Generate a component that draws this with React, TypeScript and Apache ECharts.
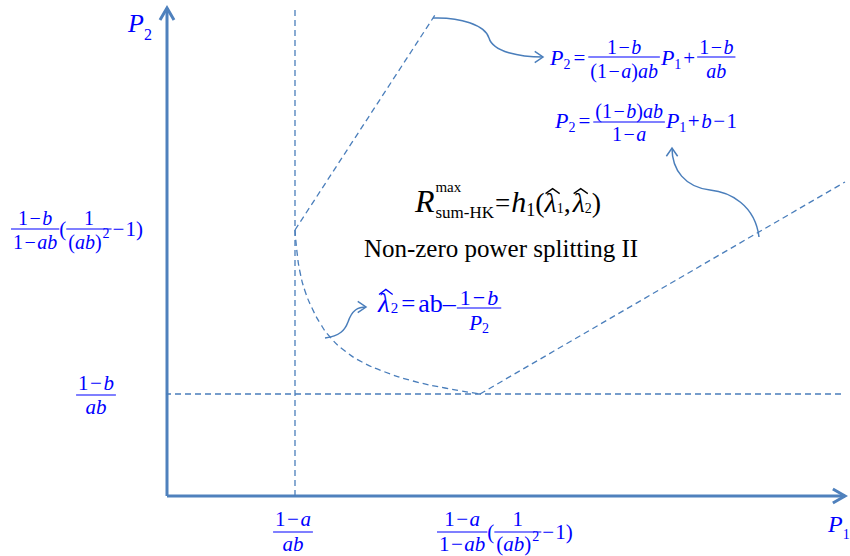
import React, { useEffect, useRef } from "react";
import * as echarts from "echarts";

// Data units: pixel-sized steps measured from the origin (P1 to the right, P2 upwards)
const X_MAX = 678;
const Y_MAX = 488;
const verticalGuide = [[128, 0], [128, 486]];
const horizontalGuide = [[-2, 102], [678, 102]];
const upperBoundary = [[128, 266], [268, 481]];
const lambdaCurve = [
  [128, 266], [130, 244], [133, 224], [138, 205], [145, 188], [153, 173], [163, 159],
  [178, 145], [195, 134], [218, 124], [246, 115], [278, 108], [313, 102],
];
const rightBoundary = [[313, 102], [678, 314]];
const axisArrows = [[0, 0, 0, Y_MAX], [0, 0, X_MAX, 0]];
// each connector: two cubic bezier segments (start, cp, cp, mid, cp, cp, end)
const connectors = [
  [266, 478, 293, 479, 318, 471, 322, 458, 326, 444, 353, 439, 376, 439],
  [592, 259, 588, 291, 563, 304, 543, 306, 518, 309, 505, 326, 505, 348],
  [158, 158, 173, 160, 178, 166, 181, 174, 185, 186, 191, 189, 199, 189],
];

const LINE = "#4a7ebb";
const AXIS = "#4f81bd";
const BLUE = "#0000ff";
const BLACK = "#000000";
const FAM = "Liberation Serif";
const CB = 0.34; // central-to-alphabetic baseline offset (em)

type Piece = any;

let ctx: CanvasRenderingContext2D | null = null;
function meas(p: Piece): number {
  if (!ctx) ctx = document.createElement("canvas").getContext("2d");
  ctx!.font = `${p.i ? "italic " : ""}${p.s}px "${FAM}"`;
  return ctx!.measureText(p.t).width;
}
function pw(p: Piece): number {
  const m = (p.l || 0) + (p.r || 0);
  if (p.num) return Math.max(rw(p.num), rw(p.den)) + 2 * (p.pad ?? 2) + m;
  return meas(p) + m;
}
function rw(ps: Piece[]): number {
  return ps.reduce((a, p) => a + pw(p), 0);
}
function textEl(p: Piece, x: number, y: number, color: string) {
  return {
    type: "text",
    x,
    y,
    silent: true,
    style: {
      text: p.t,
      fontFamily: FAM,
      fontSize: p.s,
      fontStyle: p.i ? "italic" : "normal",
      fill: color,
      align: "left",
      verticalAlign: "middle",
    },
  };
}
// a fraction drawn as one two-line rich text, centred on cx, plus its bar
function fracText(p: Piece, cx: number, by: number, color: string) {
  const rich: any = {};
  let k = 0;
  const nb = p.nb ?? -4;
  const db = p.db ?? 20;
  const lh = db - nb;
  const maxS = (ps: Piece[]) => ps.reduce((a, q) => Math.max(a, q.s), 0);
  const Sn = maxS(p.num);
  const Sd = maxS(p.den);
  const line = (ps: Piece[], S: number) =>
    ps
      .map((q) => {
        const key = "k" + k++;
        const d = CB * (S - q.s) + (q.dy || 0);
        rich[key] = {
          fontFamily: FAM,
          fontSize: q.s,
          fontStyle: q.i ? "italic" : "normal",
          fill: color,
          align: "center",
          lineHeight: lh,
          padding: [d > 0 ? 2 * d : 0, q.r || 0, d < 0 ? -2 * d : 0, q.l || 0],
        };
        return `{${key}|${q.t}}`;
      })
      .join("");
  const numCentral = by + nb - CB * Sn;
  return {
    type: "text",
    x: cx,
    y: numCentral - lh / 2,
    silent: true,
    style: {
      text: line(p.num, Sn) + "\n" + line(p.den, Sd),
      rich,
      fill: color,
      fontFamily: FAM,
      fontSize: Sn,
      align: "center",
      verticalAlign: "top",
    },
  };
}
function place(ps: Piece[], x: number, base: number, color: string, out: any[]): number {
  for (const p of ps) {
    x += p.l || 0;
    if (p.num) {
      const nw = rw(p.num);
      const dw = rw(p.den);
      const w = Math.max(nw, dw) + 2 * (p.pad ?? 2);
      const by = base + (p.bar ?? -7);
      out.push({
        type: "line",
        silent: true,
        shape: { x1: x, y1: by, x2: x + w, y2: by },
        style: { stroke: color, lineWidth: 1.2 },
      });
      out.push(fracText(p, x + w / 2, by, color));
      x += w;
    } else {
      const w = meas(p);
      const y = base + (p.dy || 0);
      out.push(textEl(p, x, y - CB * p.s, color));
      if (p.hat) {
        const top = y - 0.8 * p.s;
        out.push({
          type: "polyline",
          silent: true,
          shape: { points: [[x + 1, top + 4], [x + w / 2 + 2, top - 1], [x + w + 3, top + 4]] },
          style: { stroke: color, lineWidth: 1.3, fill: "none" },
        });
      }
      x += w;
    }
    x += p.r || 0;
  }
  return x;
}
function run(ps: Piece[], x: number, base: number, color: string, out: any[], anchor = "left") {
  const w = rw(ps);
  const sx = anchor === "center" ? x - w / 2 : x;
  place(ps, sx, base, color, out);
}

const T = (t: string, s = 21, extra: any = {}) => ({ t, s, ...extra });
const I = (t: string, s = 21, extra: any = {}) => ({ t, s, i: true, ...extra });
const M = (s = 21, sp = 1.5) => ({ t: "−", s, l: sp, r: sp });
const F = (num: Piece[], den: Piece[], extra: any = {}) => ({ num, den, ...extra });
const ab2 = (s: number) => [T("(", s), I("ab", s), T(")", s), T("2", 14, { dy: -10, l: 1 })];

function buildGraphics() {
  const out: any[] = [];
  const f = 20; // size of stacked fraction texts
  // axis labels
  run([I("P", 26), T("2", 16, { dy: 8 })], 128, 32, BLUE, out);
  run([I("P", 24), T("1", 14, { dy: 7 })], 828, 532, BLUE, out);

  // formula 1
  run(
    [
      I("P", 22), T("2", 14, { dy: 4 }), T("=", 21, { l: 3, r: 3 }),
      F([T("1", f), M(f), I("b", f)], [T("(1", f), M(f), I("a", f), T(")", f), I("ab", f)], { bar: -8, nb: -3, db: 20.5 }),
      I("P", 22, { l: 1 }), T("1", 14, { dy: 4 }), T("+", 21, { l: 2, r: 2 }),
      F([T("1", f), M(f), I("b", f)], [I("ab", f)], { bar: -8, nb: -3, db: 20.5 }),
    ],
    550, 65, BLUE, out
  );
  // formula 2
  run(
    [
      I("P", 22), T("2", 14, { dy: 4 }), T("=", 21, { l: 3, r: 3 }),
      F([T("(1", f), M(f), I("b", f), T(")", f), I("ab", f)], [T("1", f), M(f), I("a", f)], { bar: -6, nb: -4.5, db: 19 }),
      I("P", 22, { l: 1 }), T("1", 14, { dy: 4 }), T("+", 21, { l: 1.5, r: 1.5 }), I("b"), M(21, 1.5), T("1"),
    ],
    555, 128, BLUE, out
  );
  // y tick labels
  run(
    [
      F([T("1", f), M(f), I("b", f)], [T("1", f), M(f), I("ab", f)], { bar: -7, nb: -4, db: 19.5 }),
      T("(", 21),
      F([T("1", f)], ab2(f), { bar: -7, nb: -4, db: 19.5 }),
      M(21, 1), T("1)"),
    ],
    11, 236, BLUE, out
  );
  run([F([T("1"), M(), I("b")], [I("ab")], { bar: -7, nb: -5, db: 19 })], 96, 402, BLUE, out, "center");
  // x tick labels
  run([F([T("1"), M(), I("a")], [I("ab")], { bar: -7, nb: -6, db: 19 })], 293, 539, BLUE, out, "center");
  run(
    [
      F([T("1"), M(), I("a")], [T("1"), M(), I("ab")], { bar: -7, nb: -6, db: 19 }),
      T("(", 21),
      F([T("1")], ab2(21), { bar: -7, nb: -6, db: 19 }),
      M(21, 1), T("1)"),
    ],
    437, 539, BLUE, out
  );
  // central black formula
  const cx = 508;
  const rPieces = [I("R", 32)];
  const rW = rw(rPieces);
  const supW = Math.max(meas(T("max", 15)), meas(T("sum-HK", 17)));
  const tail = [
    T("=", 27, { l: 1, r: 1 }), I("h", 30), T("1", 18, { dy: 4 }), T("(", 28),
    I("λ", 28, { hat: true }), T("1", 14, { dy: 1 }), T(",", 28, { r: 2 }),
    I("λ", 28, { hat: true }), T("2", 14, { dy: 1 }), T(")", 28),
  ];
  const total = rW + 1 + supW + rw(tail);
  const sx = cx - total / 2;
  place(rPieces, sx, 212, BLACK, out);
  place([T("max", 15)], sx + rW + 1, 192, BLACK, out);
  place([T("sum-HK", 17)], sx + rW + 1, 218, BLACK, out);
  place(tail, sx + rW + 1 + supW, 212, BLACK, out);

  run([T("Non-zero power splitting II", 25)], 501, 257, BLACK, out, "center");

  // lambda formula
  run(
    [
      I("λ", 27, { hat: true }), T("2", 15, { dy: 1, l: 1 }), T("=", 25, { l: 3, r: 3 }),
      T("ab", 26), T("–", 26, { r: 1 }),
      F([T("1", 22), M(22, 2), I("b", 22)], [I("P", 21), T("2", 14, { dy: 4 })], { bar: -4, nb: -3, db: 22, pad: 3 }),
    ],
    378, 312, BLUE, out
  );
  return out;
}

function arrowHead(tip: number[], from: number[], len: number, ang: number) {
  const a = Math.atan2(tip[1] - from[1], tip[0] - from[0]);
  return [
    [tip[0] - len * Math.cos(a - ang), tip[1] - len * Math.sin(a - ang)],
    [tip[0], tip[1]],
    [tip[0] - len * Math.cos(a + ang), tip[1] - len * Math.sin(a + ang)],
  ];
}

export default function App() {
  const ref = useRef<HTMLDivElement>(null);
  useEffect(() => {
    if (!ref.current) return;
    const chart = echarts.init(ref.current, undefined, { renderer: "svg" });
    const dashed = (data: number[][], smooth = false) => ({
      type: "line",
      data,
      smooth,
      symbol: "none",
      silent: true,
      clip: false,
      lineStyle: { color: LINE, width: 1.3, type: [6, 4] },
    });
    chart.setOption({
      animation: false,
      backgroundColor: "#ffffff",
      grid: { left: 167, top: 8, width: X_MAX, height: Y_MAX },
      xAxis: { type: "value", min: 0, max: X_MAX, show: false },
      yAxis: { type: "value", min: 0, max: Y_MAX, show: false },
      series: [
        dashed(verticalGuide),
        dashed(horizontalGuide),
        dashed(upperBoundary),
        dashed(lambdaCurve, true),
        dashed(rightBoundary),
        {
          type: "custom",
          silent: true,
          data: axisArrows,
          encode: { x: [0, 2], y: [1, 3] },
          renderItem: (_p: any, api: any) => {
            const a = api.coord([api.value(0), api.value(1)]);
            const b = api.coord([api.value(2), api.value(3)]);
            return {
              type: "group",
              children: [
                { type: "line", shape: { x1: a[0], y1: a[1], x2: b[0], y2: b[1] }, style: { stroke: AXIS, lineWidth: 3 } },
                { type: "polyline", shape: { points: arrowHead(b, a, 14, Math.PI / 6) }, style: { stroke: AXIS, lineWidth: 3, fill: "none" } },
              ],
            };
          },
        },
        {
          type: "custom",
          silent: true,
          data: connectors,
          encode: { x: [0, 2, 4, 6, 8, 10, 12], y: [1, 3, 5, 7, 9, 11, 13] },
          renderItem: (_p: any, api: any) => {
            const pts: number[][] = [];
            for (let k = 0; k < 7; k++) pts.push(api.coord([api.value(2 * k), api.value(2 * k + 1)]));
            const seg = (o: number) => ({
              type: "bezierCurve",
              shape: {
                x1: pts[o][0], y1: pts[o][1],
                cpx1: pts[o + 1][0], cpy1: pts[o + 1][1],
                cpx2: pts[o + 2][0], cpy2: pts[o + 2][1],
                x2: pts[o + 3][0], y2: pts[o + 3][1],
              },
              style: { stroke: LINE, lineWidth: 1.5, fill: "none" },
            });
            return {
              type: "group",
              children: [
                seg(0),
                seg(3),
                { type: "polyline", shape: { points: arrowHead(pts[6], pts[5], 10, 0.6) }, style: { stroke: LINE, lineWidth: 1.5, fill: "none" } },
              ],
            };
          },
        },
      ],
      graphic: { elements: buildGraphics() },
    });
    return () => chart.dispose();
  }, []);
  return (
    <div
      ref={ref}
      style={{ position: "absolute", left: 0, top: 0, width: 850, height: 556, background: "#fff" }}
    />
  );
}
